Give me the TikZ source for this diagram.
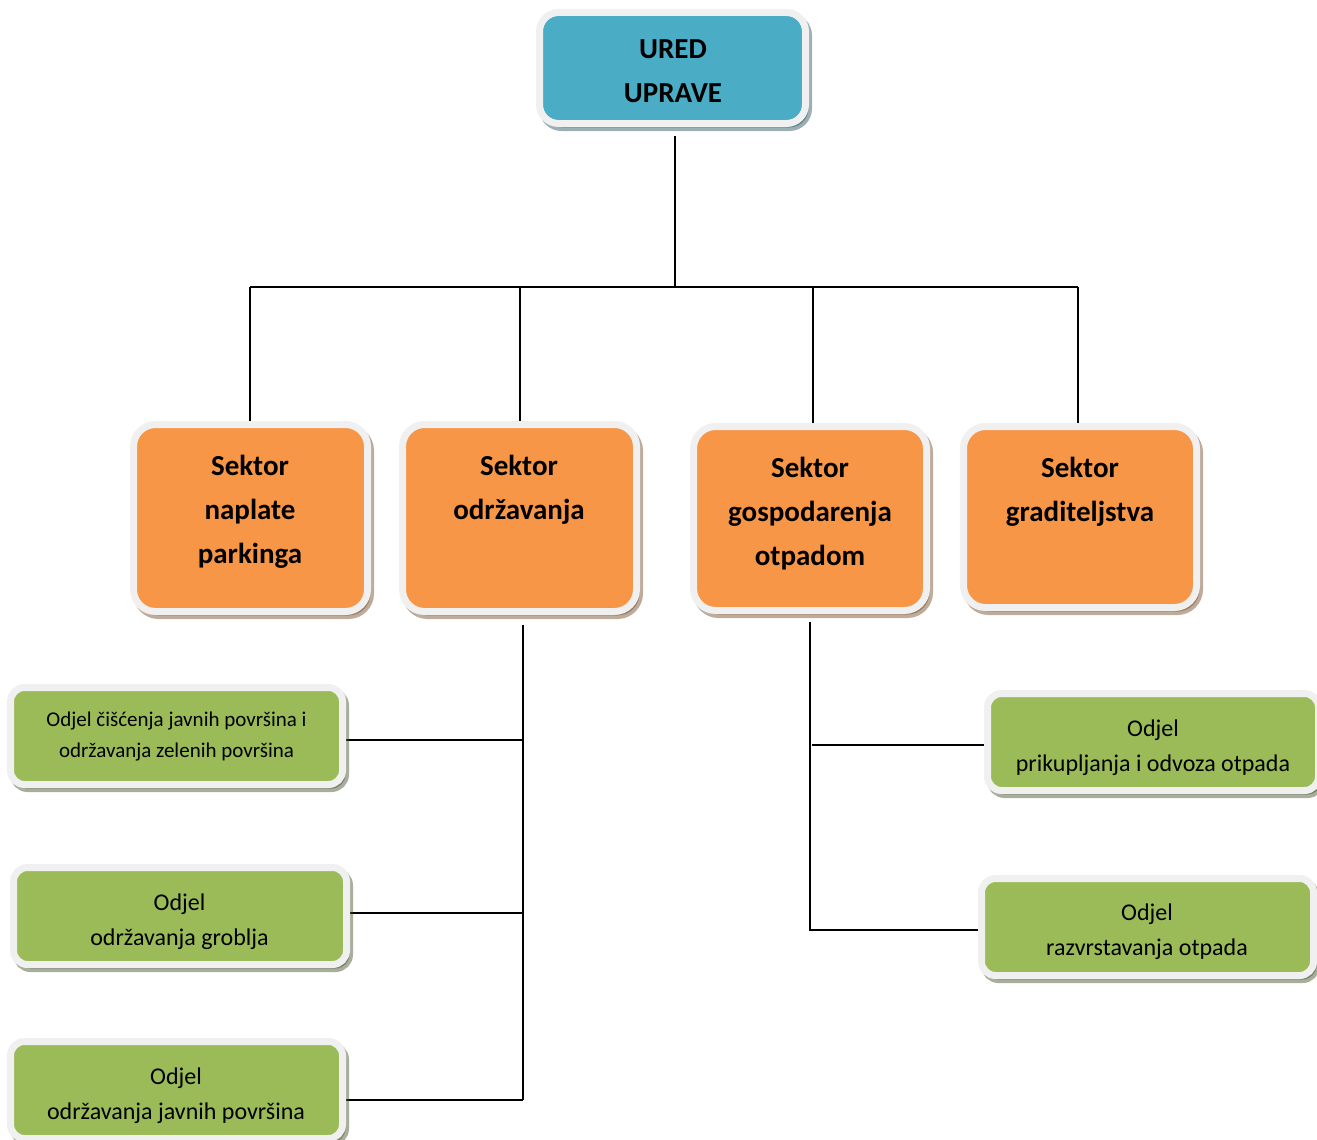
\documentclass[tikz,border=0pt]{standalone}
\usepackage{fontspec}
\setmainfont{Carlito}
\usetikzlibrary{shadows,backgrounds}
\definecolor{uredblue}{HTML}{4BACC6}
\definecolor{sorange}{HTML}{F79646}
\definecolor{ogreen}{HTML}{9BBB59}
\definecolor{rim}{HTML}{F0F0F0}
\newcommand\mytopstrut[1]{\rule{0pt}{#1}}
\tikzset{
  card/.style={draw=rim, line width=7pt, inner sep=0pt, outer sep=0pt},
  uredbox/.style={card, fill=uredblue, rounded corners=19pt,
    minimum width=266pt, minimum height=111pt,
    drop shadow={shadow xshift=3pt, shadow yshift=-4pt, fill=uredblue!45!black,
      draw=uredblue!45!black, line width=7pt, opacity=0.45}},
  sektorbox/.style={card, fill=sorange, rounded corners=22pt,
    minimum width=234pt, minimum height=187pt,
    drop shadow={shadow xshift=3pt, shadow yshift=-4pt, fill=sorange!45!black,
      draw=sorange!45!black, line width=7pt, opacity=0.45}},
  odjelbox/.style={card, fill=ogreen, rounded corners=14pt,
    minimum width=332pt, minimum height=97pt,
    drop shadow={shadow xshift=3pt, shadow yshift=-4pt, fill=ogreen!40!black,
      draw=ogreen!40!black, line width=7pt, opacity=0.45}},
  btxt/.style={font=\bfseries\fontsize{29}{44}\selectfont, align=center,
    inner sep=0pt, anchor=north},
  gtxt/.style={font=\fontsize{24}{35}\selectfont, align=center,
    inner sep=0pt, anchor=north},
  gsmall/.style={font=\fontsize{21}{31}\selectfont, align=center,
    inner sep=0pt, anchor=north},
  conn/.style={draw=black, line width=1.8pt}
}
\begin{document}
\begin{tikzpicture}[x=1pt,y=-1pt]
\useasboundingbox (0,0) rectangle (1317,1140);

% boxes
\node[uredbox] (ured) at (672.5,68) {};
\node[sektorbox] (s1) at (250.5,518) {};
\node[sektorbox] (s2) at (519.5,518) {};
\node[sektorbox, minimum width=233pt, minimum height=184pt] (s3) at (810,518.5) {};
\node[sektorbox, minimum width=233pt, minimum height=181pt] (s4) at (1080,517) {};
\node[odjelbox] (g1) at (176.5,736) {};
\node[odjelbox, minimum width=333pt] (g2) at (180,916) {};
\node[odjelbox] (g3) at (176.5,1090) {};
\node[odjelbox, minimum width=331pt] (g4) at (1153,742) {};
\node[odjelbox] (g5) at (1147.5,927) {};

% texts
\node[btxt] (tured) at (673,34) {\mytopstrut{24pt}URED\\UPRAVE};
\node[btxt] (ts1) at (250,451) {\mytopstrut{24pt}Sektor\\naplate\\parkinga};
\node[btxt] (ts2) at (519,451.7) {\mytopstrut{24pt}Sektor\\održavanja};
\node[btxt] (ts3) at (810,453.7) {\mytopstrut{24pt}Sektor\\gospodarenja\\otpadom};
\node[btxt] (ts4) at (1080,453.7) {\mytopstrut{24pt}Sektor\\graditeljstva};
\node[gsmall] (tg1) at (176.5,708.7) {\mytopstrut{18pt}Odjel čišćenja javnih površina i\\održavanja zelenih površina};
\node[gtxt] (tg2) at (179.5,890) {\mytopstrut{20pt}Odjel\\održavanja groblja};
\node[gtxt] (tg3) at (176,1064) {\mytopstrut{20pt}Odjel\\održavanja javnih površina};
\node[gtxt] (tg4) at (1153,716) {\mytopstrut{20pt}Odjel\\prikupljanja i odvoza otpada};
\node[gtxt] (tg5) at (1147,900) {\mytopstrut{20pt}Odjel\\razvrstavanja otpada};

% connectors
\begin{scope}[on background layer]
\coordinate (top) at (675,287);
\coordinate (hl) at (250,287);
\coordinate (hr) at (1078,287);
\coordinate (h2) at (520,287);
\coordinate (h3) at (813,287);
\draw[conn] ([yshift=-12pt]ured.south -| top) -- (top);
\draw[conn] (hl) -- (hr);
\draw[conn] (hl) -- (hl |- s1.north);
\draw[conn] (h2) -- (h2 |- s2.north);
\draw[conn] (h3) -- (h3 |- s3.north);
\draw[conn] (hr) -- (hr |- s4.north);

\coordinate (v2) at (523,1100);
\coordinate (b1) at (523,740);
\coordinate (b2) at (522,913);
\draw[conn] ([yshift=-13pt]s2.south -| v2) -- (v2);
\draw[conn] (g1.east |- b1) -- (b1);
\draw[conn] (g2.east |- b2) -- (b2);
\draw[conn] (g3.east |- v2) -- (v2);

\coordinate (v3) at (810,930);
\coordinate (b4) at (812,745);
\draw[conn] ([yshift=-11pt]s3.south -| v3) -- (v3) -- (v3 -| g5.west);
\draw[conn] (b4) -- (b4 -| g4.west);
\end{scope}
\end{tikzpicture}
\end{document}
